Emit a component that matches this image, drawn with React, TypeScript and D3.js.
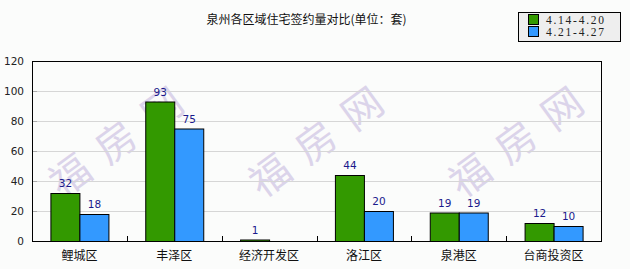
import React from "react";
import * as d3 from "d3";

const categories = ["鲤城区", "丰泽区", "经济开发区", "洛江区", "泉港区", "台商投资区"];
const seriesNames = ["4.14-4.20", "4.21-4.27"];
const week1 = [32, 93, 1, 44, 19, 12];
const week2 = [18, 75, 0, 20, 19, 10];
const yTicks = [0, 20, 40, 60, 80, 100, 120];
const colors = ["#339900", "#3399ff"];
const title = "泉州各区域住宅签约量对比(单位：套)";
const watermark = "福房网";

const W = 630, H = 269;
const X0 = 32, X1 = 601, Y0 = 241, Y1 = 61;

export default function App() {
  const x = d3.scaleBand<string>().domain(categories).range([X0, X1]).padding(0);
  const y = d3.scaleLinear().domain([0, 120]).range([Y0, Y1]);
  const barW = 29;
  const series = [week1, week2];
  const cjk = "'Noto Sans CJK SC', sans-serif";
  const num = "'DejaVu Sans', sans-serif";

  return (
    <svg width={W} height={H} style={{ position: "fixed", left: 0, top: 0, display: "block" }}>
      <rect x={0} y={0} width={W} height={H} fill="#fbfcfb" />
      <text x={306.5} y={23.5} textAnchor="middle" fontFamily={cjk} fontSize={12} fill="#111">{title}</text>

      {/* watermarks */}
      {[125, 325, 525].map((cx, i) => (
        <text key={i} transform={`translate(${cx},${140}) rotate(-36)`} textAnchor="middle"
          dominantBaseline="middle" fontFamily={cjk} fontSize={40} letterSpacing={17}
          fill="#dbd4ea">{watermark}</text>
      ))}

      {/* grid */}
      {yTicks.filter(t => t > 0 && t < 120).map(t => (
        <g key={t}>
          <line x1={X0} x2={X1} y1={Math.round(y(t)) + 0.5} y2={Math.round(y(t)) + 0.5} stroke="#d6d6d6" />
          <line x1={X0} x2={X0 + 5} y1={Math.round(y(t)) + 0.5} y2={Math.round(y(t)) + 0.5} stroke="#aaaaaa" />
        </g>
      ))}

      {/* bars */}
      {categories.map((c, i) => {
        const cx = (x(c) as number) + x.bandwidth() / 2;
        return series.map((s, k) => {
          const v = s[i];
          if (v <= 0) return null;
          const bx = cx - barW + k * barW;
          const top = y(v);
          return (
            <g key={c + k}>
              <rect x={bx + 0.5} y={top + 0.5} width={barW} height={Math.max(Y0 - top, 0.5)}
                fill={colors[k]} stroke="#000" strokeWidth={1} />
              <text x={bx + barW / 2 + 0.5} y={top - 6} textAnchor="middle" fontFamily={num}
                fontSize={10.5} fill="#1a1a8c">{v}</text>
            </g>
          );
        });
      })}

      {/* frame */}
      <rect x={X0 + 0.5} y={Y1 + 0.5} width={X1 - X0} height={Y0 - Y1} fill="none" stroke="#000" />

      {/* x ticks */}
      {categories.slice(1).map(c => (
        <line key={c} x1={Math.round(x(c) as number) + 0.5} x2={Math.round(x(c) as number) + 0.5}
          y1={Y0} y2={Y0 - 5} stroke="#000" />
      ))}

      {/* y labels */}
      {yTicks.map(t => (
        <text key={t} x={24} y={y(t) + 4} textAnchor="end" fontFamily={num} fontSize={10.5} fill="#222">{t}</text>
      ))}

      {/* category labels */}
      {categories.map(c => (
        <text key={c} x={(x(c) as number) + x.bandwidth() / 2} y={260} textAnchor="middle"
          fontFamily={cjk} fontSize={12} fill="#111">{c}</text>
      ))}

      {/* legend */}
      <rect x={518.5} y={12.5} width={102} height={29} fill="#eeeeee" stroke="#000" />
      {seriesNames.map((n, k) => (
        <g key={n}>
          <rect x={528.5} y={14.5 + k * 12} width={10} height={10} fill={colors[k]} stroke="#000" />
          <text x={546} y={23.5 + k * 12} fontFamily="'Liberation Serif', serif" fontSize={11.5}
            textLength={58} lengthAdjust="spacing" fill="#222">{n}</text>
        </g>
      ))}
    </svg>
  );
}
